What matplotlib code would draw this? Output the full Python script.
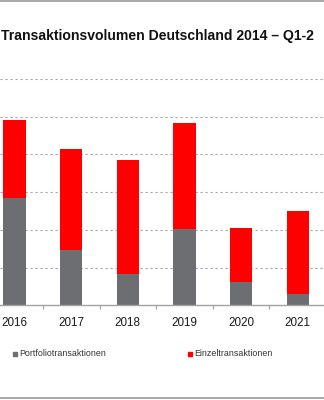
import numpy as np
import matplotlib
matplotlib.use('Agg')
import matplotlib.pyplot as plt
from matplotlib.lines import Line2D
from matplotlib.patches import Rectangle

# values (in gridline units)
years = ['2016', '2017', '2018', '2019', '2020', '2021']
portfolio = [2.84, 1.46, 0.84, 2.02, 0.61, 0.31]
einzel = [2.06, 2.68, 3.01, 2.80, 1.45, 2.20]

title = 'Transaktionsvolumen Deutschland 2014 – Q1-2'
label_portfolio = 'Portfoliotransaktionen'
label_einzel = 'Einzeltransaktionen'

grey = '#6d6e71'
red = '#ff0000'
sans = 'Liberation Sans'

fig = plt.figure(figsize=(3.24, 4.0), dpi=100)
ax = fig.add_axes([0, 0.2368, 1, 0.5658])

x = np.arange(len(years))
w = 0.394
ax.bar(x, portfolio, width=w, color=grey, zorder=3)
ax.bar(x, einzel, width=w, bottom=portfolio, color=red, zorder=3)

ax.set_yticks(np.arange(1, 7))
ax.yaxis.grid(True, color='#a6a6a6', linestyle=(0, (2, 2.5)), linewidth=0.8, zorder=0)
ax.tick_params(axis='y', left=False, labelleft=False)

ax.set_xticks(x)
ax.set_xticklabels(years, fontfamily=sans, fontsize=8.4, color='#1a1a1a')
ax.set_xticks(np.arange(-0.5, 6, 1), minor=True)
ax.tick_params(axis='x', which='major', length=0, pad=8.5)
ax.tick_params(axis='x', which='minor', length=3, width=0.8, color='#a0a0a0', direction='out')

# limits after ticks, so the view is not widened
ax.set_xlim(-0.258, 5.465)
ax.set_ylim(0, 6)

for s in ['top', 'left', 'right']:
    ax.spines[s].set_visible(False)
ax.spines['bottom'].set_color('#a0a0a0')
ax.spines['bottom'].set_linewidth(1)
ax.spines['bottom'].set_zorder(4)

fig.text(1 / 324, 0.9, title, ha='left', va='baseline', fontsize=10.1,
         fontweight='bold', family=sans, color='#111111')

# legend
ly = 1 - 354 / 400
fig.add_artist(Rectangle((12.5 / 324, ly - 2.2 / 400), 4.5 / 324, 4.5 / 400,
                         transform=fig.transFigure, color=grey))
fig.text(19.5 / 324, ly, label_portfolio, ha='left', va='center',
         fontsize=6.4, family=sans, color='#333333')
fig.add_artist(Rectangle((188 / 324, ly - 2.2 / 400), 4.5 / 324, 4.5 / 400,
                         transform=fig.transFigure, color=red))
fig.text(194 / 324, ly, label_einzel, ha='left', va='center',
         fontsize=6.4, family=sans, color='#333333')

# frame lines at top and bottom
fig.add_artist(Line2D([0, 1], [0.9975, 0.9975], transform=fig.transFigure,
                      color='#9a9a9a', linewidth=1.2))
fig.add_artist(Line2D([0, 1], [0.005, 0.005], transform=fig.transFigure,
                      color='#9a9a9a', linewidth=1.2))

fig.savefig('out.png', dpi=100)
